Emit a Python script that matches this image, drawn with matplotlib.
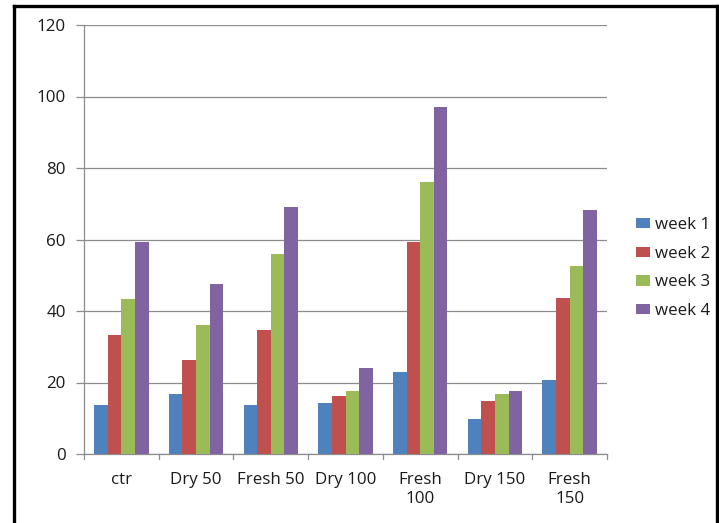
import matplotlib
matplotlib.use("Agg")
import matplotlib.pyplot as plt
from matplotlib.lines import Line2D
import numpy as np

plt.rcParams['font.family'] = ['Open Sans', 'DejaVu Sans']

categories = ["ctr", "Dry 50", "Fresh 50", "Dry 100", "Fresh\n100", "Dry 150", "Fresh\n150"]
series_names = ["week 1", "week 2", "week 3", "week 4"]
week1 = [13.8, 16.8, 13.8, 14.3, 22.8, 9.8, 20.6]
week2 = [33.4, 26.4, 34.8, 16.3, 59.4, 14.7, 43.6]
week3 = [43.3, 36.2, 55.9, 17.7, 76.2, 16.8, 52.6]
week4 = [59.4, 47.6, 69.0, 24.0, 97.0, 17.6, 68.3]
y_ticks = [0, 20, 40, 60, 80, 100, 120]

colors = ["#4F81BD", "#C0504D", "#9BBB59", "#8064A2"]
grid_color = "#8C8C8C"
text_color = "#1A1A1A"
fs = 12.2

fig = plt.figure(figsize=(7.19, 5.23), dpi=100)
ax = fig.add_axes([84 / 719, 69 / 523, 523 / 719, 429 / 523])

x = np.arange(len(categories))
n = 4
bar_w = 1 / (n + 1.5)
for i, (vals, name) in enumerate(zip([week1, week2, week3, week4], series_names)):
    offs = (i - (n - 1) / 2) * bar_w
    ax.bar(x + offs, vals, width=bar_w, color=colors[i], label=name, zorder=3)

ax.set_xlim(-0.5, len(categories) - 0.5)
ax.set_ylim(0, 120)
ax.set_yticks(y_ticks)
ax.yaxis.grid(True, color=grid_color, linewidth=0.9, zorder=0)
ax.tick_params(axis='y', length=6, color=grid_color, width=0.9, labelsize=fs,
               pad=7, labelcolor=text_color)

# category labels centred, tick marks on group boundaries
ax.set_xticks(x)
ax.set_xticklabels(categories, fontsize=fs, color=text_color, linespacing=1.25)
ax.tick_params(axis='x', length=0, pad=13)
for b in np.arange(-0.5, len(categories), 1.0):
    ax.add_line(Line2D([b, b], [0, -1.5], color=grid_color, lw=0.9,
                       clip_on=False, zorder=2))

for side in ["top", "right"]:
    ax.spines[side].set_visible(False)
for side in ["left", "bottom"]:
    ax.spines[side].set_color(grid_color)
    ax.spines[side].set_linewidth(0.9)

leg = ax.legend(loc="upper left", bbox_to_anchor=(636 / 719, 1 - 217 / 523),
                bbox_transform=fig.transFigure, frameon=False, fontsize=fs,
                handlelength=0.85, handleheight=0.55, handletextpad=0.3,
                labelspacing=0.75, borderaxespad=0, borderpad=0)
for t in leg.get_texts():
    t.set_color(text_color)

# outer chart frame
fig.add_artist(Line2D([14 / 719, 14 / 719], [0, 1 - 6 / 523], transform=fig.transFigure,
                      color="black", lw=2.4, solid_capstyle="projecting"))
fig.add_artist(Line2D([14 / 719, 717 / 719], [1 - 6 / 523, 1 - 6 / 523], transform=fig.transFigure,
                      color="black", lw=2.4, solid_capstyle="projecting"))
fig.add_artist(Line2D([717 / 719, 717 / 719], [0, 1 - 6 / 523], transform=fig.transFigure,
                      color="black", lw=2.4, solid_capstyle="projecting"))

fig.savefig("out.png", dpi=100)
